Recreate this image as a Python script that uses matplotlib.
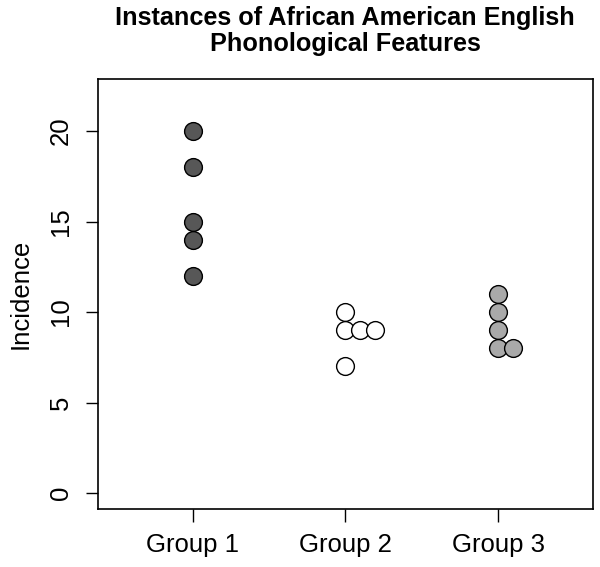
import numpy as np
import matplotlib.pyplot as plt

plt.rcParams['font.family'] = ['Liberation Sans', 'DejaVu Sans']

# 数据
groups = ['Group 1', 'Group 2', 'Group 3']
group1 = [20, 18, 15, 14, 12]
group2 = [10, 9, 9, 9, 7]
group3 = [11, 10, 9, 8, 8]
fills = ['#575757', '#ffffff', '#a9a9a9']

fig = plt.figure(figsize=(6, 5.67), dpi=100)
ax = fig.add_axes([0.163, 0.1023, 0.825, 0.7584])

# stripchart(method='stack') 的效果：重复值向右错开
step = 0.097
for i, (vals, col) in enumerate(zip([group1, group2, group3], fills)):
    seen = {}
    xs = []
    for v in vals:
        k = seen.get(v, 0)
        xs.append(i + 1 + k * step)
        seen[v] = k + 1
    ax.scatter(xs, vals, s=12.8 ** 2, c=col, edgecolors='black',
               linewidths=1.0, zorder=3)

ax.set_xlim(0.38, 3.62)
ax.set_ylim(-0.88, 22.88)
ax.set_xticks([1, 2, 3])
ax.set_xticklabels(groups)
ax.set_yticks([0, 5, 10, 15, 20])
ax.set_yticklabels(['0', '5', '10', '15', '20'], rotation=90, va='center')
ax.tick_params(axis='both', direction='out', length=9, width=1,
               labelsize=18.5, pad=9)
ax.tick_params(axis='x', pad=8)
for sp in ax.spines.values():
    sp.set_linewidth(1.2)

ax.set_ylabel('Incidence', fontsize=18.5, labelpad=12)
ax.set_title('Instances of African American English\nPhonological Features',
             fontsize=18.2, fontweight='bold', pad=20, linespacing=1.12)

fig.savefig('out.png', dpi=100)
